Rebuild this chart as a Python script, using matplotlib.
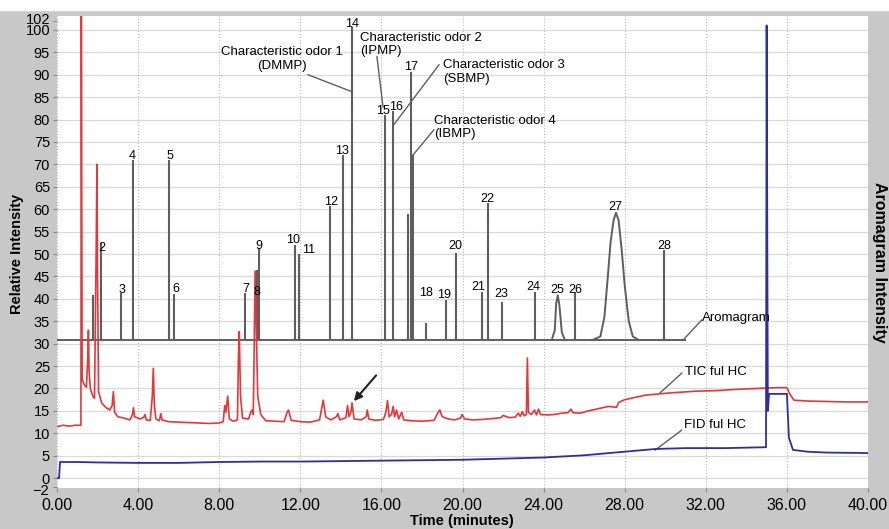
import matplotlib
matplotlib.use('Agg')
import matplotlib.pyplot as plt
from matplotlib.patches import Rectangle
from matplotlib.transforms import ScaledTranslation

plt.rcParams['font.family'] = ['Liberation Sans', 'DejaVu Sans']

# aromagram: flat baseline with narrow spikes
arom_base = 30.8
arom_end = 31.0
spike_t = [1.77, 2.15, 3.16, 3.76, 5.52, 5.78, 9.27, 9.85, 9.95, 11.73, 11.95,
           13.45, 14.1, 14.55, 16.18, 16.55, 17.3, 17.46, 17.56, 18.22, 19.17,
           19.66, 20.95, 21.25, 21.95, 23.6, 25.55, 29.95]
spike_h = [40.8, 52.5, 41.3, 71.0, 71.0, 41.0, 41.3, 46.5, 51.3, 52.0, 50.0,
           60.7, 72.1, 100.7, 81.0, 81.8, 59.0, 90.7, 72.0, 34.6, 39.7,
           50.2, 41.5, 61.4, 39.3, 41.5, 41.5, 50.9]

# broad peaks 25 and 27
p25_t = [24.4, 24.55, 24.62, 24.7, 24.78, 24.9, 25.05]
p25_v = [30.8, 33.0, 39.0, 40.8, 38.5, 32.5, 30.8]
p27_t = [26.4, 26.8, 27.0, 27.15, 27.3, 27.45, 27.57, 27.7, 27.85, 28.0, 28.2, 28.4, 28.7]
p27_v = [30.8, 31.6, 36.0, 44.0, 52.5, 57.5, 59.2, 57.5, 51.0, 43.0, 35.0, 31.6, 30.8]

# peak numbers
lab_ids = ['2', '3', '4', '5', '6', '7', '8', '9', '10', '11', '12', '13', '14',
           '15', '16', '17', '18', '19', '20', '21', '22', '23', '24', '25',
           '26', '27', '28']
lab_t = [2.22, 3.19, 3.73, 5.57, 5.85, 9.3, 9.85, 9.98, 11.66, 12.4, 13.5, 14.04,
         14.57, 16.06, 16.7, 17.44, 18.2, 19.1, 19.63, 20.78, 21.22, 21.9, 23.49,
         24.68, 25.55, 27.56, 29.94]
lab_v = [51.3, 42.0, 71.9, 71.9, 42.1, 42.1, 41.5, 51.8, 53.1, 50.9, 61.7, 73.0,
         101.3, 81.9, 82.9, 91.8, 41.4, 40.8, 51.9, 42.7, 62.2, 41.0, 42.7,
         42.0, 42.0, 60.4, 51.9]

# TIC full HC (red)
tic_t = [0.0, 0.3, 0.6, 0.9, 1.18, 1.2, 1.24, 1.35, 1.45, 1.52, 1.55, 1.58, 1.65,
         1.78, 1.85, 1.93, 1.97, 2.0, 2.05, 2.2, 2.4, 2.6, 2.72, 2.78, 2.84, 3.0,
         3.3, 3.6, 3.72, 3.77, 3.83, 4.1, 4.28, 4.34, 4.4, 4.6, 4.7, 4.75, 4.8,
         4.88, 5.05, 5.12, 5.18, 5.5, 6.0, 6.5, 7.0, 7.5, 8.0, 8.2, 8.27, 8.33,
         8.42, 8.5, 8.7, 8.9, 8.95, 8.99, 9.05, 9.15, 9.45, 9.55, 9.62, 9.68,
         9.73, 9.77, 9.82, 9.9, 10.05, 10.3, 10.8, 11.2, 11.35, 11.42, 11.55,
         12.0, 12.5, 12.95, 13.08, 13.13, 13.25, 13.5, 13.78, 13.85, 13.95,
         14.25, 14.33, 14.4, 14.5, 14.55, 14.65, 15.0, 15.25, 15.3, 15.38, 15.7,
         16.1, 16.22, 16.3, 16.38, 16.5, 16.58, 16.65, 16.75, 16.85, 17.0, 17.1,
         17.5, 18.0, 18.6, 18.8, 18.88, 19.0, 19.3, 19.6, 19.9, 19.98, 20.1,
         20.5, 21.0, 21.5, 21.9, 22.0, 22.3, 22.6, 22.75, 22.85, 22.95, 23.05,
         23.15, 23.2, 23.25, 23.4, 23.55, 23.65, 23.75, 23.85, 24.2, 24.5, 24.9,
         25.2, 25.35, 25.45, 25.8, 26.2, 26.7, 27.2, 27.6, 27.7, 28.0, 28.4,
         29.0, 29.7, 30.5, 31.5, 32.4, 33.5, 34.5, 35.0, 35.5, 36.0, 36.15,
         36.35, 37.0, 38.0, 39.0, 40.0]
tic_v = [11.5, 11.8, 11.6, 11.8, 11.8, 106.0, 22.0, 20.8, 20.3, 27.0, 33.0, 24.0,
         19.8, 18.2, 17.8, 50.0, 70.0, 45.0, 19.3, 16.8, 15.8, 15.2, 16.2, 19.3,
         14.7, 13.7, 13.4, 13.0, 14.2, 15.7, 13.7, 13.2, 13.6, 14.2, 13.0, 12.9,
         18.3, 24.5, 16.2, 13.2, 12.8, 14.4, 13.0, 12.6, 12.5, 12.4, 12.3, 12.2,
         12.3, 12.6, 16.2, 14.7, 18.3, 13.2, 12.7, 13.0, 27.5, 32.7, 18.3, 13.4,
         13.2, 14.7, 15.2, 14.2, 30.5, 46.2, 35.5, 18.3, 14.2, 12.8, 12.7, 12.6,
         14.7, 15.2, 12.9, 12.6, 12.5, 13.0, 16.2, 17.4, 13.7, 13.0, 13.7, 14.4,
         13.0, 13.5, 16.2, 13.7, 14.8, 16.8, 13.2, 13.0, 13.7, 15.2, 13.2, 12.9,
         13.1, 14.7, 17.3, 13.7, 14.2, 16.0, 13.7, 15.2, 13.2, 14.7, 13.0, 12.8,
         12.7, 12.9, 14.7, 15.2, 13.7, 13.2, 13.0, 13.4, 14.2, 13.2, 13.0, 13.1,
         13.3, 13.5, 14.0, 13.5, 13.6, 14.5, 13.8, 14.8, 13.9, 14.2, 26.8, 14.7,
         14.2, 15.2, 14.1, 15.4, 14.2, 14.1, 14.2, 14.5, 14.6, 15.4, 14.6, 14.5,
         15.0, 15.5, 16.0, 15.8, 16.9, 17.5, 17.9, 18.5, 18.8, 19.1, 19.4, 19.5,
         19.8, 20.0, 20.1, 20.2, 20.2, 18.7, 17.4, 17.2, 17.1, 17.0, 17.0]

# FID full HC (blue)
fid_t = [0.0, 0.1, 0.15, 1.0, 2.0, 4.0, 6.0, 8.0, 10.0, 12.0, 16.0, 20.0, 24.0,
         26.0, 28.0, 29.5, 31.0, 33.0, 34.97, 35.0, 35.06, 35.12, 36.0, 36.1,
         36.3, 37.0, 38.0, 40.0]
fid_v = [0.0, 0.0, 3.6, 3.6, 3.5, 3.4, 3.4, 3.6, 3.7, 3.7, 3.9, 4.1, 4.6,
         5.1, 5.9, 6.5, 6.7, 6.7, 6.9, 101.0, 15.0, 18.8, 18.8, 9.0,
         6.3, 5.9, 5.7, 5.6]

xticks = [0, 4, 8, 12, 16, 20, 24, 28, 32, 36, 40]
yticks = [-2] + list(range(0, 101, 5)) + [102]

fig = plt.figure(figsize=(8.89, 5.29), dpi=100, facecolor='#c8c8c8')
fig.patches.append(Rectangle((0, 1 - 10 / 529), 1, 10 / 529, transform=fig.transFigure,
                             color='white', zorder=0))
ax = fig.add_axes([57 / 889, 41 / 529, 811 / 889, 472 / 529])
ax.set_facecolor('white')

ax.set_xlim(0, 40)
ax.set_ylim(-2.2, 103.1)
ax.set_xticks(xticks)
ax.set_xticklabels(['%.2f' % x for x in xticks], fontsize=11.5)
ax.set_yticks(yticks)
ax.set_yticklabels([str(y).replace('-', '\u2212') for y in yticks], fontsize=10.5)
ax.tick_params(axis='y', length=3, pad=2, color='#888888')
ax.tick_params(axis='x', length=3, pad=4, color='#888888')
for s in ax.spines.values():
    s.set_visible(False)

# crowded end labels: nudge 102 up and -2 down like the original
ylabs = ax.get_yticklabels()
ylabs[-1].set_transform(ylabs[-1].get_transform() + ScaledTranslation(0, 2 / 72, fig.dpi_scale_trans))
ylabs[0].set_transform(ylabs[0].get_transform() + ScaledTranslation(-1 / 72, -2 / 72, fig.dpi_scale_trans))

for y in range(0, 101, 5):
    ax.axhline(y, color='#d9d9d9', lw=0.9, zorder=0)
for x in xticks:
    ax.axvline(x, color='#b8b8b8', lw=0.8, ls=':', zorder=0)

grey = '#5e5e5e'
ax.hlines(arom_base, 0, arom_end, color=grey, lw=1.4, zorder=2)
ax.vlines(spike_t, arom_base, spike_h, color=grey, lw=1.5, zorder=2)
ax.plot(p25_t, p25_v, color=grey, lw=1.4, zorder=2)
ax.plot(p27_t, p27_v, color=grey, lw=1.4, zorder=2)
ax.plot(tic_t, tic_v, color='#e2383b', lw=1.2, zorder=3)
ax.plot(fid_t, fid_v, color='#2e2e9e', lw=1.3, zorder=3)

for lab, t, v in zip(lab_ids, lab_t, lab_v):
    ax.text(t, v, lab, fontsize=9, ha='center', va='center', zorder=4)

fs = 9.5
ax.text(11.1, 93.5, 'Characteristic odor 1\n(DMMP)', fontsize=fs, ha='center',
        va='center', multialignment='center', linespacing=1.15)
ax.plot([12.38, 14.55], [90.0, 86.2], color=grey, lw=1)
ax.text(14.94, 96.7, 'Characteristic odor 2\n(IPMP)', fontsize=fs, ha='left',
        va='center', linespacing=1.15)
ax.plot([15.78, 16.08], [94.0, 82.8], color=grey, lw=1)
ax.text(19.04, 90.6, 'Characteristic odor 3\n(SBMP)', fontsize=fs, ha='left',
        va='center', linespacing=1.15)
ax.plot([18.84, 16.57], [92.2, 78.6], color=grey, lw=1)
ax.text(18.59, 78.2, 'Characteristic odor 4\n(IBMP)', fontsize=fs, ha='left',
        va='center', linespacing=1.15)
ax.plot([18.59, 17.56], [77.7, 72.1], color=grey, lw=1)

ax.text(31.81, 35.7, 'Aromagram', fontsize=fs, ha='left', va='center')
ax.plot([31.8, 30.88], [35.3, 30.8], color=grey, lw=1)
ax.text(30.97, 23.7, 'TIC ful HC', fontsize=fs, ha='left', va='center')
ax.plot([30.81, 29.74], [23.4, 19.0], color=grey, lw=1)
ax.text(30.93, 11.8, 'FID ful HC', fontsize=fs, ha='left', va='center')
ax.plot([30.81, 29.5], [10.7, 6.25], color=grey, lw=1)

ax.annotate('', xy=(14.55, 16.7), xytext=(15.83, 23.4),
            arrowprops=dict(arrowstyle='-|>', color='#222222', lw=1.5,
                            mutation_scale=12))

fig.text(17 / 889, 1 - 254 / 529, 'Relative Intensity', rotation=90, ha='center',
         va='center', fontsize=10.5, fontweight='bold')
fig.text(880 / 889, 1 - 262 / 529, 'Aromagram Intensity', rotation=-90, ha='center',
         va='center', fontsize=11.5, fontweight='bold')
fig.text(462 / 889, 1 - 521 / 529, 'Time (minutes)', ha='center', va='center',
         fontsize=10.5, fontweight='bold')

fig.savefig('out.png', dpi=100, facecolor=fig.get_facecolor())
